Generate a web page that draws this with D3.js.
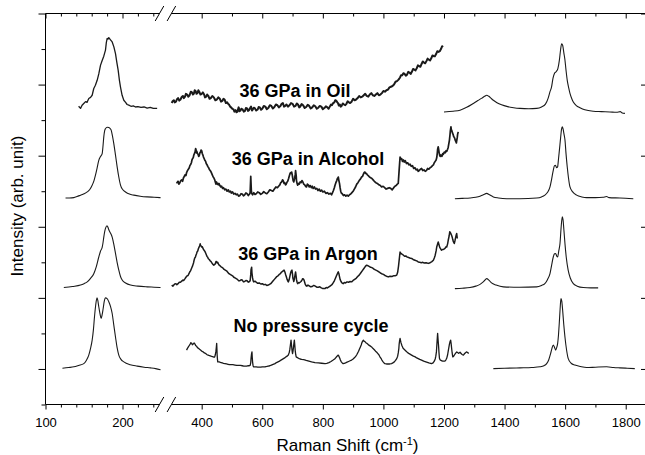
<!DOCTYPE html>
<html><head><meta charset="utf-8">
<script src="https://cdn.jsdelivr.net/npm/d3@7"></script>
<style>
body{margin:0;background:#fff}
svg{display:block}
text{font-family:"Liberation Sans",Arial,Helvetica,sans-serif;fill:#000}
</style></head><body>
<svg id="c" width="645" height="455"></svg>
<script>
// ---------- axis settings ----------
const lowRange = [100, 250];
const highRange = [300, 1867];
const lowMajor = [100, 200];
const lowMinor = [120, 140, 160, 180, 220, 240];
const highMajor = [400, 600, 800, 1000, 1200, 1400, 1600, 1800];
const highMinor = [500, 700, 900, 1100, 1300, 1500, 1700];
const yRange = [0, 11];
const yMajor = [1, 3, 5, 7, 9, 11];
const yMinor = [0, 2, 4, 6, 8, 10];

// ---------- labels ----------
const seriesNames = ["36 GPa in Oil", "36 GPa in Alcohol", "36 GPa in Argon", "No pressure cycle"];
const labelX = [708, 751, 751, 761];
const labelY = [8.65, 6.73, 4.06, 2.03];

// ---------- spectra ([Raman shift, intensity]) ----------
const oilLow = [[143,8.39],[145.5,8.33],[147.5,8.42],[149.7,8.47],[152,8.52],[154,8.50],[156.2,8.61],[158.5,8.64],[160.6,8.70],[162.7,8.89],[164.8,8.98],[167.1,9.12],[169.2,9.30],[171.4,9.54],[173.6,9.68],[175.7,9.80],[177.9,9.97],[179,10.18],[180.1,10.30],[181.2,10.28],[182.2,10.32],[184.4,10.26],[186.6,10.20],[188.8,10.06],[190.9,9.87],[192.7,9.62],[194.4,9.40],[196,9.12],[197.4,8.93],[199.5,8.70],[201.7,8.56],[204,8.50],[206,8.44],[208.2,8.42],[211,8.39],[214,8.40],[217,8.37],[220,8.38],[224,8.36],[228,8.37],[232,8.34],[236,8.36],[240,8.33],[245,8.33]];
const oilMid = [[301,8.48],[304,8.53],[308,8.56],[311,8.50],[315,8.52],[318,8.58],[322,8.62],[326,8.55],[330,8.58],[334,8.65],[338,8.68],[341,8.62],[345,8.66],[348,8.74],[352,8.72],[356,8.66],[360,8.70],[364,8.80],[368,8.78],[371,8.72],[374,8.74],[377,8.84],[380,8.82],[383,8.74],[386,8.76],[389,8.84],[392,8.80],[396,8.72],[400,8.74],[404,8.78],[408,8.72],[411,8.64],[415,8.66],[418,8.72],[422,8.68],[426,8.60],[430,8.62],[435,8.68],[440,8.64],[445,8.56],[450,8.58],[455,8.64],[460,8.60],[464,8.52],[468,8.54],[472,8.60],[476,8.57],[480,8.48],[484,8.50],[487,8.46],[490,8.44],[494,8.38],[497,8.36],[501,8.32],[505,8.30],[508,8.24],[512,8.28],[515,8.22],[518,8.24],[522,8.36],[525,8.25],[528,8.27],[531,8.32],[535,8.30],[539,8.24],[543,8.26],[546,8.34],[550,8.33],[553,8.26],[556,8.28],[560,8.34],[563,8.38],[566,8.27],[568,8.29],[572,8.35],[576,8.33],[580,8.27],[585,8.30],[588,8.37],[592,8.36],[596,8.29],[600,8.32],[605,8.40],[610,8.38],[615,8.31],[620,8.34],[625,8.42],[630,8.40],[635,8.33],[640,8.37],[645,8.44],[650,8.42],[655,8.36],[660,8.40],[664,8.46],[668,8.48],[672,8.38],[676,8.40],[680,8.44],[685,8.38],[690,8.42],[695,8.48],[700,8.46],[705,8.38],[710,8.40],[714,8.47],[718,8.44],[722,8.36],[725,8.38],[730,8.45],[735,8.42],[740,8.34],[745,8.37],[750,8.43],[755,8.40],[760,8.33],[765,8.36],[770,8.42],[775,8.39],[780,8.32],[785,8.35],[790,8.40],[795,8.38],[800,8.31],[805,8.34],[810,8.39],[815,8.36],[819,8.32],[823,8.38],[827,8.44],[830,8.42],[834,8.48],[838,8.50],[841,8.56],[845,8.54],[848,8.50],[850,8.48],[853,8.41],[856,8.44],[859,8.38],[862,8.40],[866,8.47],[870,8.44],[874,8.42],[878,8.46],[882,8.53],[886,8.50],[890,8.48],[895,8.52],[900,8.60],[905,8.56],[910,8.58],[915,8.62],[920,8.68],[925,8.64],[930,8.66],[935,8.70],[940,8.74],[945,8.68],[950,8.66],[955,8.72],[960,8.76],[965,8.70],[970,8.68],[975,8.72],[980,8.76],[985,8.70],[990,8.72],[995,8.76],[1000,8.82],[1005,8.80],[1010,8.84],[1015,8.86],[1020,8.92],[1025,8.94],[1030,8.96],[1035,9.00],[1040,9.08],[1045,9.10],[1050,9.14],[1055,9.20],[1058,9.26],[1062,9.26],[1066,9.32],[1070,9.30],[1074,9.25],[1078,9.28],[1082,9.36],[1086,9.34],[1090,9.30],[1094,9.36],[1098,9.44],[1102,9.42],[1106,9.40],[1110,9.46],[1114,9.54],[1118,9.52],[1122,9.50],[1126,9.58],[1130,9.65],[1134,9.62],[1138,9.60],[1142,9.66],[1146,9.73],[1150,9.70],[1154,9.68],[1158,9.74],[1162,9.82],[1166,9.80],[1170,9.80],[1174,9.86],[1178,9.94],[1182,9.92],[1186,9.94],[1190,10.0],[1194,10.08],[1197,10.06]];
const oilHigh = [[1200,8.23],[1230,8.25],[1253,8.28],[1275,8.36],[1297,8.47],[1312,8.55],[1325,8.62],[1334,8.67],[1341,8.70],[1348,8.67],[1356,8.61],[1363,8.56],[1375,8.49],[1390,8.43],[1410,8.38],[1430,8.35],[1451,8.33],[1480,8.32],[1506,8.33],[1522,8.37],[1535,8.45],[1544,8.62],[1550,8.80],[1555,8.93],[1560,9.18],[1565,9.32],[1571,9.37],[1576,9.45],[1581,9.69],[1585,9.98],[1588.5,10.15],[1592,10.10],[1596,9.88],[1599,9.72],[1603,9.40],[1607,9.12],[1612,8.90],[1616,8.75],[1622,8.60],[1627,8.51],[1637,8.41],[1649,8.35],[1665,8.29],[1693,8.25],[1720,8.24],[1748,8.23],[1770,8.22],[1782,8.24],[1787,8.21],[1797.5,8.19]];

const alcLow = [[126,5.81],[131,5.81],[136.8,5.82],[141,5.85],[145.5,5.89],[150,5.93],[154.2,5.98],[157.5,6.05],[160.6,6.17],[163,6.30],[164.9,6.45],[167,6.65],[169.2,6.87],[171.5,6.98],[173.6,7.06],[174.8,7.30],[175.7,7.53],[176.8,7.70],[177.9,7.76],[180,7.80],[182.2,7.79],[184,7.76],[185.3,7.72],[187,7.55],[188.7,7.34],[191,7.00],[193.1,6.68],[195.2,6.40],[197.4,6.17],[200.5,6.04],[203.9,5.98],[209,5.92],[214.7,5.89],[223,5.86],[232.1,5.84],[241,5.83],[249.4,5.82]];
const alcMid = [[317,6.22],[320,6.26],[322,6.28],[325,6.20],[328,6.24],[331,6.30],[334,6.32],[337,6.28],[340,6.38],[343,6.42],[345,6.46],[348,6.44],[350,6.52],[353,6.58],[356,6.62],[359,6.66],[361,6.72],[364,6.76],[366,6.80],[368,6.88],[370,6.92],[372,6.94],[374,7.02],[376,7.06],[378,7.10],[380,7.20],[381,7.18],[383,7.08],[384,7.12],[386,7.06],[388,7.04],[390,6.98],[392,7.00],[394,7.08],[396,7.10],[398,7.16],[400,7.14],[402,7.06],[404,7.02],[406,6.96],[408,6.92],[410,6.88],[413,6.84],[415,6.78],[418,6.74],[420,6.70],[423,6.66],[425,6.62],[428,6.58],[430,6.56],[433,6.50],[435,6.46],[438,6.40],[440,6.38],[443,6.32],[445,6.26],[447,6.20],[449,6.26],[450,6.24],[452,6.20],[455,6.18],[457,6.22],[460,6.16],[463,6.12],[466,6.14],[469,6.08],[472,6.10],[476,6.04],[480,6.06],[484,6.00],[488,6.04],[491,5.98],[495,6.00],[498,5.95],[502,5.98],[506,5.92],[510,5.94],[514,5.90],[518,5.92],[522,5.86],[526,5.88],[530,5.93],[534,5.92],[538,5.87],[542,5.90],[546,5.95],[550,5.93],[554,5.88],[558,5.92],[560,5.96],[562,6.42],[564,6.00],[565,5.94],[568,5.90],[572,5.96],[576,5.91],[580,5.93],[585,5.98],[590,5.96],[595,5.91],[600,5.94],[605,5.99],[610,5.95],[615,5.93],[620,5.98],[625,6.04],[630,6.02],[635,6.00],[640,6.06],[645,6.12],[650,6.10],[654,6.14],[658,6.18],[661,6.24],[664,6.26],[667,6.32],[669,6.30],[672,6.22],[674,6.24],[677,6.18],[679,6.20],[682,6.26],[684,6.28],[687,6.36],[689,6.42],[691,6.48],[693,6.52],[695,6.50],[697,6.54],[699,6.46],[700,6.40],[702,6.30],[704,6.26],[705,6.30],[707,6.36],[709,6.48],[710,6.58],[712,6.44],[713,6.30],[715,6.22],[717,6.17],[720,6.22],[722,6.20],[725,6.26],[728,6.24],[731,6.30],[734,6.26],[737,6.20],[740,6.18],[743,6.14],[746,6.12],[749,6.20],[752,6.18],[755,6.12],[758,6.16],[762,6.10],[765,6.14],[768,6.08],[772,6.12],[776,6.06],[780,6.08],[784,6.02],[788,6.06],[792,6.00],[796,6.03],[800,5.98],[805,6.00],[810,5.94],[815,5.96],[820,5.92],[825,5.94],[829,5.90],[832,5.96],[835,6.02],[838,6.10],[840,6.16],[843,6.24],[846,6.30],[848,6.36],[850,6.38],[851,6.40],[853,6.30],[855,6.22],[857,6.10],[859,6.00],[861,5.95],[864,5.93],[868,5.88],[872,5.90],[876,5.86],[880,5.89],[884,5.86],[888,5.90],[892,5.92],[896,5.96],[900,6.00],[904,6.06],[908,6.12],[912,6.20],[916,6.24],[920,6.30],[924,6.34],[928,6.40],[931,6.42],[934,6.48],[936,6.52],[939,6.54],[941,6.50],[944,6.50],[947,6.46],[950,6.44],[954,6.40],[958,6.38],[962,6.36],[966,6.32],[970,6.28],[975,6.24],[980,6.22],[985,6.18],[990,6.16],[994,6.12],[999,6.14],[1004,6.10],[1009,6.06],[1014,6.08],[1019,6.10],[1024,6.08],[1029,6.04],[1034,6.10],[1038,6.14],[1042,6.16],[1046,6.20],[1049,6.22],[1052,6.60],[1055,6.96],[1057,6.90],[1060,6.92],[1063,6.84],[1066,6.88],[1069,6.82],[1072,6.86],[1076,6.78],[1080,6.80],[1084,6.74],[1088,6.76],[1092,6.70],[1096,6.72],[1100,6.64],[1104,6.66],[1108,6.60],[1112,6.62],[1115,6.56],[1118,6.58],[1122,6.62],[1126,6.64],[1130,6.58],[1134,6.60],[1138,6.56],[1142,6.58],[1146,6.64],[1150,6.62],[1154,6.66],[1158,6.68],[1162,6.72],[1165,6.74],[1168,6.80],[1171,6.84],[1174,6.88],[1176,6.94],[1178,7.08],[1179,7.18],[1181,7.25],[1183,7.14],[1184,7.08],[1186,7.00],[1188,6.98],[1190,7.02],[1193,6.98],[1196,7.06],[1198,7.04],[1201,7.10],[1204,7.08],[1207,7.14],[1209,7.12],[1212,7.18],[1214,7.24],[1216,7.34],[1218,7.44],[1220,7.60],[1221,7.70],[1223,7.81],[1224,7.74],[1226,7.70],[1228,7.64],[1230,7.60],[1232,7.54],[1235,7.50],[1237,7.44],[1239,7.40],[1241,7.36],[1242,7.42],[1244,7.52],[1245,7.60],[1247,7.67]];
const alcHigh = [[1236,5.79],[1260,5.80],[1286,5.81],[1305,5.83],[1319,5.86],[1330,5.90],[1341,5.94],[1350,5.90],[1363,5.84],[1380,5.81],[1407,5.79],[1450,5.79],[1506,5.81],[1522,5.84],[1533,5.89],[1542,5.97],[1550,6.12],[1555,6.32],[1560.8,6.59],[1565,6.72],[1568,6.73],[1572,6.66],[1575,6.68],[1578,6.90],[1581,7.15],[1585,7.50],[1588,7.74],[1590.5,7.81],[1593,7.76],[1596,7.62],[1599.4,7.45],[1603,7.05],[1607,6.68],[1611,6.38],[1616,6.12],[1625,5.98],[1638,5.89],[1655,5.84],[1671,5.82],[1700,5.82],[1725,5.83],[1737,5.85],[1745,5.82],[1781,5.81],[1825,5.79]];

const argLow = [[123.8,3.29],[135,3.32],[145.5,3.36],[150,3.40],[154.2,3.45],[158.5,3.55],[162.7,3.68],[166,3.88],[169.2,4.15],[171.5,4.32],[173.6,4.42],[174.7,4.55],[175.7,4.71],[177,4.88],[178.5,4.99],[179.9,5.03],[181.2,4.98],[182.5,4.90],[184.5,4.82],[186.6,4.71],[188.8,4.50],[190.9,4.25],[193,4.00],[195.2,3.78],[197.4,3.60],[199.6,3.50],[204,3.42],[210.4,3.36],[220,3.33],[232.1,3.31],[241,3.30],[249.4,3.29]];
const argMid = [[301,3.36],[305,3.33],[308,3.36],[311,3.39],[315,3.40],[318,3.37],[322,3.40],[326,3.44],[330,3.44],[334,3.47],[338,3.50],[341,3.49],[345,3.54],[348,3.58],[352,3.62],[355,3.63],[358,3.68],[360,3.72],[363,3.76],[365,3.80],[368,3.86],[370,3.90],[373,3.98],[375,4.06],[377,4.12],[379,4.14],[381,4.20],[383,4.24],[385,4.30],[387,4.32],[389,4.38],[391,4.42],[393,4.46],[395,4.52],[396,4.48],[398,4.46],[400,4.43],[402,4.44],[404,4.40],[406,4.36],[408,4.34],[411,4.30],[413,4.26],[416,4.20],[418,4.16],[420,4.14],[422,4.10],[425,4.08],[428,4.04],[431,4.02],[434,3.98],[437,3.94],[440,3.92],[443,3.94],[445,3.96],[447,4.02],[449,4.02],[451,3.98],[453,4.00],[456,3.94],[458,3.92],[461,3.90],[463,3.88],[467,3.86],[470,3.84],[474,3.80],[478,3.78],[482,3.76],[486,3.72],[490,3.68],[494,3.66],[498,3.64],[502,3.62],[506,3.58],[510,3.56],[514,3.54],[518,3.52],[522,3.48],[526,3.48],[530,3.51],[534,3.50],[538,3.45],[542,3.46],[546,3.49],[550,3.48],[554,3.44],[558,3.46],[560,3.48],[562,3.66],[563,3.80],[565,3.86],[566,3.70],[568,3.56],[570,3.48],[572,3.45],[576,3.47],[580,3.44],[585,3.41],[590,3.42],[595,3.39],[600,3.40],[605,3.37],[610,3.38],[615,3.35],[620,3.36],[624,3.38],[628,3.40],[632,3.44],[636,3.48],[640,3.52],[644,3.56],[648,3.60],[652,3.62],[656,3.66],[660,3.68],[663,3.72],[666,3.74],[669,3.76],[672,3.78],[675,3.72],[677,3.66],[680,3.58],[682,3.52],[684,3.48],[686,3.45],[689,3.52],[691,3.60],[693,3.68],[695,3.74],[697,3.77],[698,3.78],[700,3.66],[701,3.56],[703,3.50],[704,3.46],[706,3.52],[707,3.58],[709,3.68],[710,3.73],[712,3.60],[713,3.52],[715,3.44],[717,3.40],[720,3.43],[722,3.42],[725,3.44],[728,3.46],[731,3.50],[733,3.54],[736,3.53],[738,3.50],[740,3.44],[742,3.38],[745,3.34],[747,3.33],[751,3.36],[755,3.34],[760,3.31],[765,3.32],[770,3.35],[775,3.33],[780,3.30],[785,3.30],[790,3.31],[795,3.28],[800,3.26],[807,3.26],[811,3.29],[815,3.28],[820,3.31],[825,3.34],[830,3.37],[834,3.42],[838,3.48],[842,3.56],[845,3.62],[848,3.68],[850,3.72],[851,3.73],[853,3.68],[855,3.60],[857,3.52],[860,3.46],[863,3.42],[867,3.40],[871,3.43],[875,3.42],[880,3.45],[885,3.44],[890,3.46],[895,3.45],[900,3.49],[905,3.52],[910,3.55],[915,3.60],[920,3.64],[925,3.70],[930,3.76],[935,3.82],[940,3.88],[944,3.92],[947,3.91],[950,3.90],[954,3.88],[958,3.86],[962,3.85],[966,3.83],[970,3.80],[975,3.78],[980,3.76],[985,3.73],[990,3.70],[994,3.68],[1000,3.66],[1005,3.63],[1010,3.61],[1016,3.59],[1022,3.61],[1028,3.60],[1033,3.62],[1038,3.62],[1041,3.63],[1044,3.64],[1047,3.72],[1050,3.90],[1053,4.14],[1055,4.29],[1057,4.26],[1060,4.24],[1063,4.22],[1066,4.20],[1070,4.17],[1074,4.18],[1078,4.15],[1082,4.14],[1087,4.12],[1093,4.11],[1098,4.08],[1104,4.06],[1110,4.04],[1115,4.01],[1120,4.00],[1125,3.99],[1130,4.00],[1135,3.98],[1141,3.99],[1148,3.97],[1152,3.98],[1156,4.00],[1160,4.02],[1165,4.06],[1168,4.12],[1171,4.20],[1174,4.32],[1176,4.43],[1179,4.52],[1181,4.57],[1184,4.48],[1186,4.42],[1189,4.38],[1192,4.34],[1195,4.36],[1198,4.36],[1201,4.38],[1204,4.40],[1207,4.44],[1209,4.43],[1212,4.52],[1214,4.62],[1217,4.74],[1219,4.86],[1221,4.84],[1223,4.80],[1225,4.76],[1227,4.71],[1229,4.64],[1231,4.58],[1233,4.55],[1234,4.53],[1236,4.60],[1238,4.68],[1240,4.76],[1242,4.81],[1244,4.67]];
const argHigh = [[1236,3.26],[1260,3.27],[1286,3.29],[1305,3.33],[1319,3.38],[1332,3.47],[1341,3.54],[1348,3.50],[1357,3.42],[1372,3.36],[1396,3.31],[1450,3.30],[1506,3.31],[1522,3.35],[1533,3.40],[1542,3.52],[1550,3.68],[1555,3.90],[1560.8,4.15],[1565,4.24],[1568.7,4.25],[1572,4.18],[1575.3,4.15],[1579,4.32],[1583,4.53],[1586.5,4.95],[1590.5,5.28],[1593,5.20],[1596,4.90],[1599.4,4.53],[1604,4.12],[1610,3.78],[1617,3.56],[1627,3.40],[1640,3.33],[1660,3.29],[1685,3.28],[1709,3.28]];

const npLow = [[122,1.02],[130,1.04],[136.8,1.06],[143,1.10],[149.7,1.15],[153,1.24],[156.2,1.39],[158.5,1.58],[160.6,1.81],[162.2,2.10],[163.6,2.46],[165.2,2.80],[166.9,3.00],[168,2.92],[169.2,2.75],[170.8,2.55],[172.3,2.42],[173.5,2.52],[174.9,2.70],[176.3,2.90],[177.9,3.00],[180,2.98],[182.2,2.89],[184.4,2.76],[186.6,2.56],[188.8,2.22],[190.9,1.90],[193,1.60],[195.2,1.39],[198,1.27],[201.7,1.20],[210,1.12],[219.1,1.08],[228,1.05],[236.4,1.03],[243,1.01],[249.4,0.98]];
const npMid = [[350,1.53],[353,1.58],[356,1.62],[359,1.66],[362,1.70],[364,1.74],[367,1.72],[369,1.68],[372,1.70],[375,1.73],[378,1.70],[380,1.66],[383,1.64],[386,1.60],[389,1.58],[392,1.56],[395,1.54],[398,1.52],[400,1.50],[403,1.49],[405,1.48],[409,1.45],[412,1.44],[415,1.42],[418,1.40],[421,1.39],[424,1.38],[428,1.37],[431,1.36],[435,1.35],[438,1.34],[441,1.33],[443,1.34],[445,1.40],[447,1.50],[448.5,1.62],[449.5,1.72],[450.5,1.52],[451,1.40],[452,1.28],[453,1.20],[457,1.20],[460,1.19],[464,1.18],[468,1.17],[472,1.16],[477,1.15],[482,1.14],[487,1.13],[492,1.12],[497,1.12],[503,1.12],[510,1.11],[516,1.10],[522,1.10],[528,1.10],[534,1.09],[539,1.08],[543,1.08],[548,1.08],[552,1.09],[556,1.09],[560,1.10],[562,1.18],[563,1.30],[564.5,1.42],[566,1.48],[567,1.32],[568,1.20],[569.5,1.10],[571,1.06],[575,1.06],[580,1.06],[585,1.05],[590,1.05],[595,1.05],[600,1.06],[605,1.06],[609,1.06],[615,1.07],[620,1.08],[625,1.09],[630,1.11],[636,1.13],[642,1.15],[647,1.18],[652,1.20],[657,1.22],[662,1.25],[666,1.27],[670,1.29],[674,1.31],[678,1.34],[682,1.36],[686,1.39],[689,1.46],[691,1.55],[693,1.68],[695,1.81],[696.5,1.68],[698,1.55],[699,1.48],[700,1.43],[701.5,1.50],[703,1.60],[704.5,1.72],[706,1.81],[707.5,1.66],[709,1.50],[710.5,1.40],[712,1.34],[716,1.32],[720,1.30],[725,1.28],[730,1.27],[737,1.26],[745,1.24],[754,1.22],[763,1.20],[774,1.18],[785,1.17],[796,1.16],[807,1.15],[813,1.16],[820,1.18],[827,1.21],[834,1.25],[839,1.28],[843,1.32],[846,1.35],[848,1.37],[850,1.39],[851,1.39],[853,1.36],[856,1.30],[858,1.25],[861,1.20],[864,1.17],[867,1.15],[871,1.16],[875,1.17],[880,1.19],[885,1.21],[890,1.23],[895,1.25],[900,1.28],[905,1.32],[909,1.36],[912,1.40],[915,1.45],[918,1.50],[921,1.56],[924,1.62],[927,1.68],[929,1.74],[932,1.79],[934,1.81],[936,1.78],[939,1.77],[942,1.74],[945,1.72],[948,1.70],[952,1.67],[956,1.65],[961,1.62],[965,1.58],[970,1.54],[974,1.50],[978,1.47],[981,1.44],[985,1.40],[988,1.35],[992,1.30],[995,1.25],[999,1.20],[1002,1.17],[1005,1.15],[1010,1.14],[1015,1.14],[1021,1.14],[1027,1.15],[1031,1.17],[1036,1.20],[1040,1.24],[1044,1.29],[1047,1.36],[1049,1.45],[1051,1.58],[1052,1.70],[1053.5,1.80],[1055,1.86],[1056.5,1.80],[1058,1.74],[1061,1.66],[1065,1.58],[1070,1.54],[1075,1.50],[1080,1.46],[1085,1.43],[1089,1.41],[1093,1.39],[1099,1.36],[1105,1.34],[1110,1.31],[1115,1.29],[1120,1.27],[1126,1.25],[1133,1.22],[1140,1.20],[1150,1.17],[1159,1.15],[1164,1.17],[1168,1.22],[1171,1.28],[1173,1.36],[1175,1.48],[1176,1.62],[1177.5,1.82],[1179,2.00],[1180.5,1.82],[1182,1.66],[1183.5,1.46],[1185,1.30],[1187,1.26],[1190,1.24],[1193,1.23],[1196,1.22],[1200,1.22],[1203,1.22],[1206,1.25],[1209,1.30],[1212,1.40],[1214,1.50],[1216,1.60],[1218,1.70],[1220,1.77],[1222,1.81],[1223.5,1.72],[1225,1.60],[1227,1.45],[1229,1.34],[1232,1.36],[1235,1.40],[1238,1.44],[1242,1.48],[1245,1.46],[1248,1.44],[1250,1.45],[1253,1.47],[1255,1.45],[1258,1.42],[1261,1.40],[1264,1.39],[1267,1.42],[1270,1.45],[1273,1.47],[1275,1.48],[1278,1.46],[1282,1.44]];
const npHigh = [[1363,1.01],[1400,1.02],[1451,1.03],[1490,1.04],[1517,1.06],[1530,1.09],[1539,1.15],[1546,1.26],[1552,1.43],[1556.5,1.58],[1560.8,1.67],[1564.5,1.62],[1568.7,1.53],[1572,1.60],[1575.3,1.72],[1578,1.95],[1580.6,2.28],[1583.5,2.70],[1586.2,2.98],[1589,2.90],[1591.8,2.65],[1595.5,2.25],[1599.4,1.90],[1605,1.52],[1610.3,1.29],[1620,1.16],[1632,1.11],[1650,1.07],[1671,1.04],[1700,1.05],[1737,1.06],[1760,1.04],[1781,1.03],[1805,1.02],[1830,1.01]];

// ---------- scales ----------
const svg = d3.select("#c");
const plotLeft = 45.5, plotRight = 646, plotTop = 13.5, plotBottom = 404.5;
const xL = d3.scaleLinear().domain(lowRange).range([plotLeft, 161]);
const xR = d3.scaleLinear().domain(highRange).range([171.4, plotRight]);
const y = d3.scaleLinear().domain(yRange).range([plotBottom, plotTop]);

const INK = "#1a1a1a";

// ---------- spectra ----------
const lineL = d3.line().x(d => xL(d[0])).y(d => y(d[1])).curve(d3.curveMonotoneX);
const lineR = d3.line().x(d => xR(d[0])).y(d => y(d[1])).curve(d3.curveMonotoneX);
const lineRn = d3.line().x(d => xR(d[0])).y(d => y(d[1])).curve(d3.curveLinear);
const lineLn = d3.line().x(d => xL(d[0])).y(d => y(d[1])).curve(d3.curveLinear);

const gS = svg.append("g").attr("fill", "none").attr("stroke", INK).attr("stroke-linejoin", "round");
[
  [oilLow, lineLn, 1.3], [oilMid, lineRn, 2.0], [oilHigh, lineR, 1.1],
  [alcLow, lineL, 1.1], [alcMid, lineRn, 1.7], [alcHigh, lineR, 1.1],
  [argLow, lineL, 1.1], [argMid, lineRn, 1.5], [argHigh, lineR, 1.1],
  [npLow, lineL, 1.1], [npMid, lineRn, 1.3], [npHigh, lineR, 1.1]
].forEach(([d, gen, w]) => gS.append("path").attr("d", gen(d)).attr("stroke-width", w));

// ---------- labels ----------
seriesNames.forEach((t, i) => {
  svg.append("text").attr("x", xR(labelX[i])).attr("y", y(labelY[i]))
    .attr("text-anchor", "middle").attr("font-size", 18).attr("font-weight", "bold").text(t);
});

// ---------- axes ----------
function clean(g){ g.select(".domain").remove(); g.selectAll("line").attr("stroke", "#000"); return g; }
function fmtTicks(g){ g.selectAll("text").attr("font-size", 13).attr("fill", "#000"); }

// bottom
clean(svg.append("g").attr("transform", `translate(0,${plotBottom})`)
  .call(d3.axisBottom(xL).tickValues(lowMajor).tickSize(5).tickPadding(8).tickFormat(d3.format("d")))).call(fmtTicks);
clean(svg.append("g").attr("transform", `translate(0,${plotBottom})`)
  .call(d3.axisBottom(xL).tickValues(lowMinor).tickSize(3).tickFormat("")));
clean(svg.append("g").attr("transform", `translate(0,${plotBottom})`)
  .call(d3.axisBottom(xR).tickValues(highMajor).tickSize(5).tickPadding(8).tickFormat(d3.format("d")))).call(fmtTicks);
clean(svg.append("g").attr("transform", `translate(0,${plotBottom})`)
  .call(d3.axisBottom(xR).tickValues(highMinor).tickSize(3).tickFormat("")));
// top (inward)
clean(svg.append("g").attr("transform", `translate(0,${plotTop})`)
  .call(d3.axisTop(xL).tickValues(lowMajor).tickSize(-5).tickFormat("")));
clean(svg.append("g").attr("transform", `translate(0,${plotTop})`)
  .call(d3.axisTop(xL).tickValues(lowMinor).tickSize(-3).tickFormat("")));
clean(svg.append("g").attr("transform", `translate(0,${plotTop})`)
  .call(d3.axisTop(xR).tickValues(highMajor).tickSize(-5).tickFormat("")));
clean(svg.append("g").attr("transform", `translate(0,${plotTop})`)
  .call(d3.axisTop(xR).tickValues(highMinor).tickSize(-3).tickFormat("")));
// left (outward)
clean(svg.append("g").attr("transform", `translate(${plotLeft},0)`)
  .call(d3.axisLeft(y).tickValues(yMajor).tickSize(7).tickFormat("")));
clean(svg.append("g").attr("transform", `translate(${plotLeft},0)`)
  .call(d3.axisLeft(y).tickValues(yMinor).tickSize(4).tickFormat("")));
// right (inward)
clean(svg.append("g").attr("transform", `translate(${plotRight},0)`)
  .call(d3.axisRight(y).tickValues(yMajor).tickSize(-5).tickFormat("")));

// frame lines with breaks
const frame = svg.append("g").attr("stroke", "#000").attr("stroke-width", 1).attr("fill", "none");
[plotTop, plotBottom].forEach(yy => {
  frame.append("line").attr("x1", plotLeft).attr("x2", xL(lowRange[1]) - 1.5).attr("y1", yy).attr("y2", yy);
  frame.append("line").attr("x1", xR(highRange[0])).attr("x2", plotRight).attr("y1", yy).attr("y2", yy);
  [xL(lowRange[1]) - 1.5, xR(highRange[0])].forEach(cx => {
    frame.append("line").attr("x1", cx - 4.3).attr("y1", yy + 7.5).attr("x2", cx + 4.3).attr("y2", yy - 7.5);
  });
});
frame.append("line").attr("x1", plotLeft).attr("x2", plotLeft).attr("y1", plotTop).attr("y2", plotBottom);
frame.append("line").attr("x1", plotRight).attr("x2", plotRight).attr("y1", plotTop).attr("y2", plotBottom);

// axis titles
const xt = svg.append("text").attr("x", 347.5).attr("y", 450.5).attr("text-anchor", "middle").attr("font-size", 17);
xt.append("tspan").text("Raman Shift (cm");
xt.append("tspan").attr("dy", -6).attr("font-size", 11).text("-1");
xt.append("tspan").attr("dy", 6).text(")");

svg.append("text").attr("transform", "translate(23,206) rotate(-90)")
  .attr("text-anchor", "middle").attr("font-size", 17).text("Intensity (arb. unit)");
</script>
</body></html>
